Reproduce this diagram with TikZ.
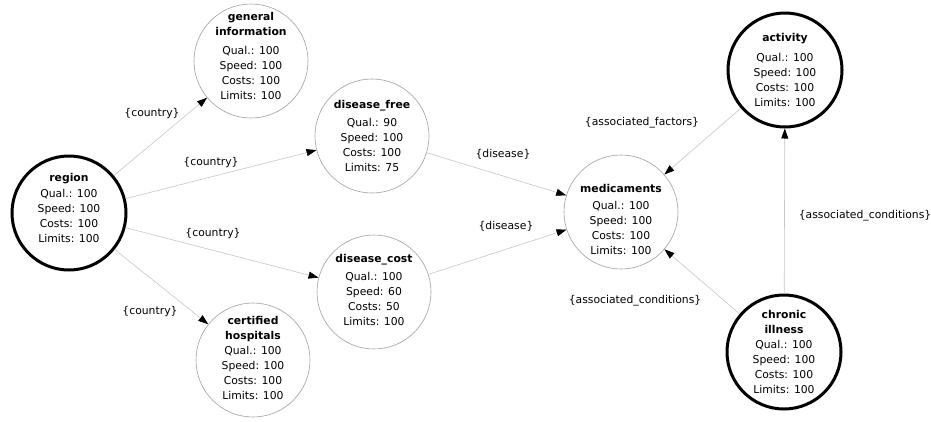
\documentclass[tikz,border=0pt]{standalone}
\usepackage{fontspec}
\setmainfont{DejaVu Sans}
\usetikzlibrary{arrows.meta}
\tikzset{
    tbl/.style={circle, draw=gray!75, line width=0.6pt, minimum size=114pt, inner sep=-6pt,
        align=center, font=\fontsize{10.8}{15}\selectfont},
    tblmain/.style={tbl, draw=black, line width=3pt},
    lnk/.style={draw=gray!45, line width=0.6pt, -{Triangle[length=10pt,width=7pt,color=black]}},
    lbl/.style={font=\fontsize{10.8}{13}\selectfont, inner sep=1pt}
}
\begin{document}
\begin{tikzpicture}[x=1pt,y=-1pt]
        \useasboundingbox (0,0) rectangle (931,421);
        % tables
        \node[tblmain] (region) at(69, 213){\textbf{region}\\[1pt]Qual.: 100\\Speed: 100\\Costs: 100\\Limits: 100\\[-5pt]\mbox{}};
        \node[tbl] (geninfo) at(251, 61){\textbf{general}\\\textbf{information}\\[4pt]Qual.: 100\\Speed: 100\\Costs: 100\\Limits: 100\\[-5pt]\mbox{}};
        \node[tbl] (dfree) at(372, 136){\textbf{disease\_free}\\[3pt]Qual.: 90\\Speed: 100\\Costs: 100\\Limits: 75};
        \node[tbl] (dcost) at(374, 292){\textbf{disease\_cost}\\[3pt]Qual.: 100\\Speed: 60\\Costs: 50\\Limits: 100\\[-11pt]\mbox{}};
        \node[tbl] (hospitals) at(253, 360){\textbf{certified}\\\textbf{hospitals}\\Qual.: 100\\Speed: 100\\Costs: 100\\Limits: 100\\[-11pt]\mbox{}};
        \node[tbl] (medic) at(621, 212){\mbox{}\\[9pt]\textbf{medicaments}\\[2pt]Qual.: 100\\Speed: 100\\Costs: 100\\Limits: 100};
        \node[tblmain] (activity) at(785, 70){\textbf{activity}\\[5pt]Qual.: 100\\Speed: 100\\Costs: 100\\Limits: 100};
        \node[tblmain] (chronic) at(784, 352){\textbf{chronic}\\\textbf{illness}\\Qual.: 100\\Speed: 100\\Costs: 100\\Limits: 100};
        % links
        \draw[lnk] (region) -- (geninfo);
            \node[lbl] (l1) at(152, 114){\{country\}};
        \draw[lnk] (region) -- (dfree);
            \node[lbl] (l2) at(211, 163){\{country\}};
        \draw[lnk] (region) -- (dcost);
            \node[lbl] (l3) at(213, 234){\{country\}};
        \draw[lnk] (region) -- (hospitals);
            \node[lbl] (l4) at(150, 312){\{country\}};
        \draw[lnk] (dfree) -- (medic);
            \node[lbl] (l5) at(503, 154){\{disease\}};
        \draw[lnk] (dcost) -- (medic);
            \node[lbl] (l6) at(506, 226){\{disease\}};
        \draw[lnk] (activity) -- (medic);
            \node[lbl] (l7) at(642, 123){\{associated\_factors\}};
        \draw[lnk] (chronic) -- (medic);
            \node[lbl] (l8) at(635, 301){\{associated\_conditions\}};
        \draw[lnk] (chronic) -- (activity);
            \node[lbl] (l9) at(865, 216){\{associated\_conditions\}};
        \end{tikzpicture}
\end{document}
